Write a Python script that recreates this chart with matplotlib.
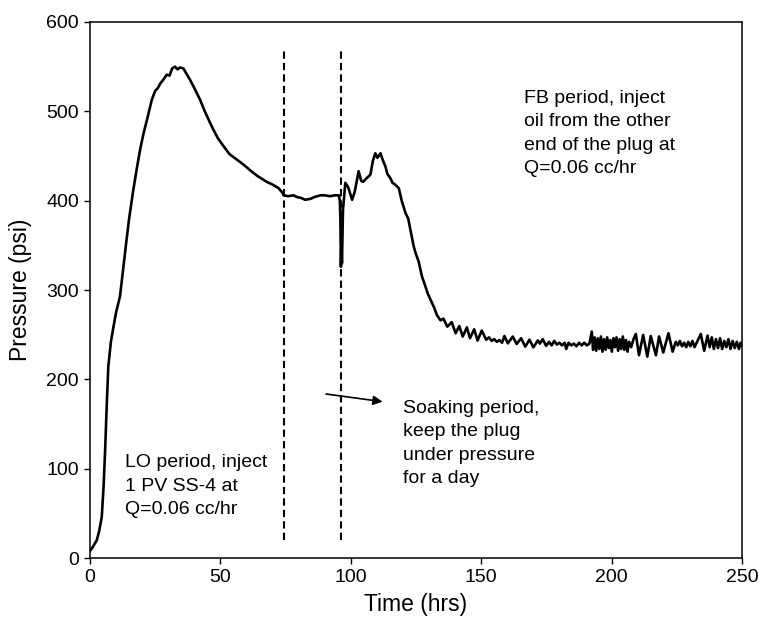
import numpy as np
import matplotlib
matplotlib.use("Agg")
import matplotlib.pyplot as plt

plt.rcParams['font.family'] = ['Liberation Sans', 'DejaVu Sans']

# LO period (injection), 0 - 74 hrs
t_lo = [0, 1, 2.6, 3.5, 4.5, 5.2, 5.8, 6.4, 7, 8, 9, 10, 11.5, 12.8, 14, 15, 16.6, 18,
        19.2, 20.5, 21.8, 23.7, 25, 26, 26.9, 28, 29.4, 30.5, 31.5, 32.6, 33.5, 34.5,
        35.8, 37, 38.4, 40, 42.2, 44, 46.7, 49, 51.2, 53.5, 56.3, 59, 61.4, 64, 67.8,
        70, 72.3, 74]
p_lo = [8, 12, 20, 30, 46, 80, 121, 170, 214, 242, 259, 275, 293, 326, 356, 380, 412, 437,
        457, 475, 490, 513, 523, 526, 531, 535, 541, 540, 548, 550, 547, 549, 548,
        542, 535, 526, 513, 500, 483, 470, 461, 452, 446, 440, 434, 428, 421,
        418, 414, 408]

# soaking + FB period, 74 - 140 hrs
t_fb = [74.2, 76, 78, 79.4, 81, 82.5, 84.5, 86, 88.3, 90, 92, 94, 95.4, 95.8, 96.0,
        96.2, 96.4, 96.6, 97.0, 97.9, 99, 100.5, 101.5, 103, 104, 104.7, 106, 107.5,
        108.5, 109.4, 110.2, 111.4, 112.3, 113.3, 114, 115.2, 116, 117, 118.4, 119.5,
        121, 122, 123, 124.1, 125, 126, 127.3, 128.5, 129.5, 130.6, 132, 133, 134.4,
        135.5, 137.0, 138.7]
p_fb = [406, 405, 406, 404, 403, 401, 402, 404, 406, 406, 405, 406, 406, 400, 380,
        326, 350, 330, 390, 420, 415, 401, 410, 433, 422, 421, 425, 429,
        445, 453, 448, 453, 445, 438, 430, 425, 420, 418, 414, 400,
        386, 380, 365, 349, 340, 332, 315, 305, 296, 289, 280, 272, 266,
        268, 259, 264]

# FB tail, 140 - 250 hrs
t_tail = [140.2, 141.6, 142.9, 144.5, 145.7, 147.3, 148.6, 150.2, 151.9, 153, 154, 155,
          156, 157, 158, 158.9, 160.2, 162.1, 163.6, 165.3, 166.9, 168.5, 170.0, 171.7,
          172.5, 173.6, 174.9, 176, 177, 178, 179, 180, 181, 182, 182.6, 183.5, 184.5,
          185.5, 186.5, 187.5, 188.5, 189.5, 190.5, 191.5, 192.4, 192.9, 193.5, 194.1,
          194.7, 195.3, 195.9, 196.5, 197.1, 197.7, 198.3, 198.9, 199.5, 200.1, 200.7,
          201.3, 201.9, 202.5, 203.1, 203.7, 204.3, 204.9, 205.5, 206.1, 206.7, 207.5,
          208.4, 209.3, 210.5, 212.1, 213.7, 215, 217, 218.2, 219.8, 221.8, 223.4,
          224.6, 225.4, 226.2, 227, 227.8, 228.6, 229.4, 230.2, 231, 231.8, 232.6,
          234.2, 235.5, 236.8, 237.6, 238.4, 239.2, 240, 240.8, 241.6, 242.4, 243.2,
          244, 244.8, 245.6, 246.4, 247.2, 248, 248.8, 249.5, 250]
p_tail = [251.6, 259.7, 247.9, 258.2, 246, 256, 243.4, 254.6, 244.4, 247, 243, 245,
          242, 244, 241, 248.5, 240.3, 247.9, 239.6, 246, 236.6, 244.4, 235.8, 243.5,
          240, 245, 237.4, 242, 238, 243, 239, 241, 238, 241, 234, 241, 238,
          240, 237, 241, 238, 241, 238, 240, 253.5, 233, 247, 232,
          246, 234, 248, 231, 245, 233, 247, 235, 244, 231, 246,
          236, 247, 232, 245, 234, 248, 233, 244, 231, 242, 236,
          245, 250.8, 227, 249.7, 225.4, 248.5, 227, 248, 230, 251.6, 231,
          242, 238, 243, 237, 241, 236, 242, 237, 243, 236, 241,
          250.8, 232, 249, 236, 247, 234, 245, 235, 246, 234, 243,
          236, 245, 234, 243, 235, 242, 234, 241, 238]

time = np.concatenate([t_lo, t_fb, t_tail])
pressure = np.concatenate([p_lo, p_fb, p_tail])

# period boundaries (hrs) and extent of the dashed markers (psi)
t_marks = [74.5, 96.2]
mark_range = [20, 570]

fig, ax = plt.subplots(figsize=(7.59, 6.21), dpi=100)
fig.subplots_adjust(left=0.1186, right=0.9776, top=0.9646, bottom=0.1014)

ax.plot(time, pressure, color='black', lw=1.9)

for tm in t_marks:
    ax.plot([tm, tm], mark_range, color='black', lw=1.5, dashes=(3.5, 2))

ax.annotate('', xy=(112.2, 175), xytext=(90.5, 183.6),
            arrowprops=dict(arrowstyle='-|>', color='black', lw=1.2,
                            mutation_scale=14, shrinkA=0, shrinkB=0))

txt = dict(fontsize=14, va='top', ha='left', linespacing=1.5)
ax.text(166.6, 524, 'FB period, inject\noil from the other\nend of the plug at\nQ=0.06 cc/hr', **txt)
ax.text(120.0, 177, 'Soaking period,\nkeep the plug\nunder pressure\nfor a day', **txt)
ax.text(13.6, 116, 'LO period, inject\n1 PV SS-4 at\nQ=0.06 cc/hr', **txt)

ax.set_xlim(0, 250)
ax.set_ylim(0, 600)
ax.set_xticks([0, 50, 100, 150, 200, 250])
ax.set_yticks([0, 100, 200, 300, 400, 500, 600])
ax.tick_params(direction='out', length=4.5, width=1, labelsize=14)
for s in ax.spines.values():
    s.set_linewidth(1.1)

ax.set_xlabel('Time (hrs)', fontsize=16.5, labelpad=5)
ax.set_ylabel('Pressure (psi)', fontsize=16.5, labelpad=10)

fig.savefig('out.png', dpi=100)
